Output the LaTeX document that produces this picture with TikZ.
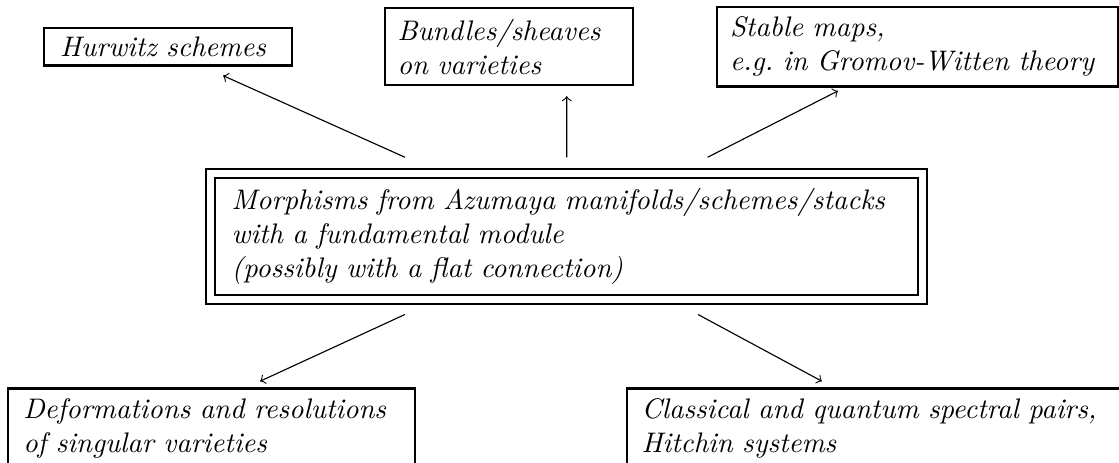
\documentclass[tikz,border=0pt]{standalone}
\usepackage{amsmath}

\begin{document}
\begin{tikzpicture}[
  box/.style={draw, thick, font=\itshape, align=left, inner ysep=0pt},
  mainbox/.style={box, double, double distance=2.4pt}
]
\useasboundingbox (0,0) rectangle (13.90,-5.75);
\clip (0,0) rectangle (13.90,-5.75);
% top row
\node[box, inner xsep=5.6pt, text width=76.4pt, minimum height=0.47cm] (hurwitz) at (2.09,-0.58){Hurwitz schemes};
\node[box, inner xsep=4.5pt, text width=78.6pt, minimum height=0.96cm] (bundles) at (6.32,-0.58){Bundles/sheaves\\ on varieties};
\node[box, inner xsep=4.5pt, text width=132.7pt, minimum height=0.99cm] (stable) at (11.40,-0.58){Stable maps,\\ e.g.\ in Gromov-Witten theory};
% middle
\node[mainbox, inner xsep=7.4pt, text width=236.8pt, minimum height=1.565cm] (main) at (7.04,-2.94){Morphisms from Azumaya manifolds/schemes/stacks\\ with a fundamental module\\ (possibly with a flat connection)};
% bottom row
\node[box, inner xsep=5.3pt, text width=133.2pt, minimum height=0.99cm] (deform) at (2.63,-5.32){Deformations and resolutions\\ of singular varieties};
\node[box, inner xsep=5.3pt, text width=170.7pt, minimum height=0.99cm] (spectral) at (10.97,-5.32){Classical and quantum spectral pairs,\\ Hitchin systems};
% arrows
\draw[->] ([xshift=-2.01cm, yshift=0.19cm]main.north) -- ([xshift=0.68cm, yshift=-0.11cm]hurwitz.south);
\draw[->] ([yshift=0.19cm]main.north) -- ([xshift=0.72cm, yshift=-0.12cm]bundles.south);
\draw[->] ([xshift=1.75cm, yshift=0.19cm]main.north) -- ([xshift=-0.99cm, yshift=-0.04cm]stable.south);
\draw[->] ([xshift=-2.01cm, yshift=-0.17cm]main.south) -- ([xshift=0.60cm, yshift=0.075cm]deform.north);
\draw[->] ([xshift=1.63cm, yshift=-0.17cm]main.south) -- ([xshift=-0.76cm, yshift=0.075cm]spectral.north);
\end{tikzpicture}
\end{document}
